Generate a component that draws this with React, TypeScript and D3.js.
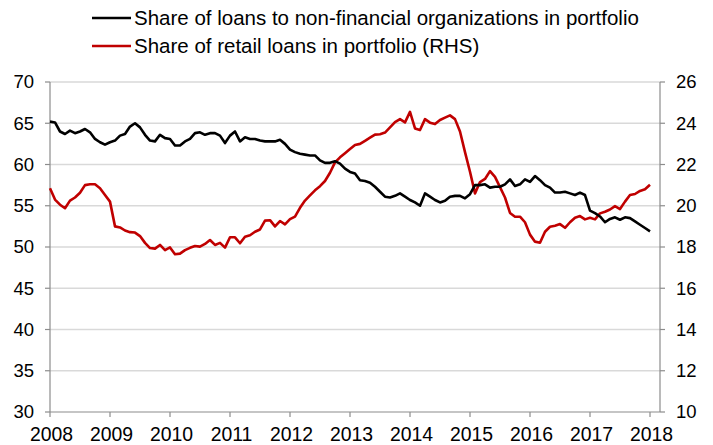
import React from "react";
import * as d3 from "d3";

const startYear = 2008;
const yearTicks = [2008, 2009, 2010, 2011, 2012, 2013, 2014, 2015, 2016, 2017, 2018];
const leftTicks = [30, 35, 40, 45, 50, 55, 60, 65, 70];
const rightTicks = [10, 12, 14, 16, 18, 20, 22, 24, 26];

const seriesNames = [
  "Share of loans to non-financial organizations in portfolio",
  "Share of retail loans in portfolio (RHS)",
];

// monthly, Jan 2008 .. Jan 2018
const corporateShare = [
  65.2, 65.1, 64.0, 63.7, 64.1, 63.8, 64.0, 64.3, 63.9, 63.1, 62.7, 62.4,
  62.7, 62.9, 63.5, 63.7, 64.6, 65.0, 64.5, 63.6, 62.9, 62.8, 63.6, 63.2,
  63.1, 62.3, 62.3, 62.8, 63.1, 63.8, 63.9, 63.6, 63.8, 63.8, 63.5, 62.6,
  63.5, 64.0, 62.8, 63.3, 63.1, 63.1, 62.9, 62.8, 62.8, 62.8, 63.0, 62.5,
  61.8, 61.5, 61.3, 61.2, 61.1, 61.1, 60.5, 60.2, 60.2, 60.4, 60.1, 59.5,
  59.1, 58.9, 58.1, 58.0, 57.8, 57.3, 56.7, 56.1, 56.0, 56.2, 56.5, 56.1,
  55.7, 55.4, 55.0, 56.5, 56.1, 55.7, 55.4, 55.6, 56.1, 56.2, 56.2, 55.9,
  56.4, 57.5, 57.5, 57.6, 57.2, 57.3, 57.3, 57.6, 58.2, 57.4, 57.6, 58.2,
  57.9, 58.6, 58.1, 57.5, 57.2, 56.6, 56.6, 56.7, 56.5, 56.3, 56.6, 56.3,
  54.4, 54.1, 53.7, 53.0, 53.4, 53.6, 53.3, 53.6, 53.5, 53.1, 52.7, 52.3,
  51.9,
];

const retailShare = [
  20.85, 20.3, 20.05, 19.88, 20.25, 20.4, 20.63, 21.0, 21.04, 21.04, 20.85, 20.52,
  20.2, 19.0, 18.95, 18.8, 18.72, 18.7, 18.53, 18.2, 17.95, 17.92, 18.1, 17.85,
  17.98, 17.65, 17.68, 17.85, 17.96, 18.05, 18.02, 18.15, 18.34, 18.1, 18.2, 17.97,
  18.47, 18.47, 18.18, 18.5, 18.57, 18.74, 18.85, 19.28, 19.3, 19.0, 19.26, 19.1,
  19.35, 19.47, 19.9, 20.25, 20.5, 20.75, 20.95, 21.2, 21.6, 22.1, 22.35, 22.55,
  22.75, 22.95, 23.0, 23.15, 23.3, 23.45, 23.47, 23.55, 23.8, 24.05, 24.2, 24.04,
  24.55, 23.75, 23.67, 24.2, 24.03, 23.96, 24.16, 24.27, 24.38, 24.2, 23.6, 22.6,
  21.65, 20.6, 21.15, 21.3, 21.68, 21.4, 20.9, 20.4, 19.65, 19.47, 19.47, 19.2,
  18.6, 18.26, 18.21, 18.74, 18.98, 19.03, 19.11, 18.93, 19.2, 19.42, 19.5, 19.34,
  19.42, 19.34, 19.63, 19.71, 19.82, 19.98, 19.84, 20.2, 20.52, 20.57, 20.72, 20.8,
  21.02,
];

const W = 713;
const H = 445;
const FONT = "'Liberation Sans', Arial, sans-serif";

export default function App() {
  const left = 50;
  const right = 660;
  const top = 82;
  const bottom = 412;
  const nMonths = corporateShare.length + 1;

  const x = d3.scaleLinear().domain([0, nMonths]).range([left, right]);
  const yL = d3.scaleLinear().domain([30, 70]).range([bottom, top]);
  const yR = d3.scaleLinear().domain([10, 26]).range([bottom, top]);

  const lineL = d3
    .line<number>()
    .x((_, i) => x(i))
    .y((d) => yL(d));
  const lineR = d3
    .line<number>()
    .x((_, i) => x(i))
    .y((d) => yR(d));

  const axisColor = "#8c8c8c";
  const gridColor = "#d9d9d9";
  const fsY = 18.5;
  const fsX = 19.4;
  const fsLeg = 20.5;

  return (
    <svg width={W} height={H} style={{ position: "absolute", left: 0, top: 0, background: "#fff" }}>
      <rect width={W} height={H} fill="#fff" />
      {leftTicks.slice(1).map((t) => (
        <line key={"g" + t} x1={left} x2={right} y1={yL(t)} y2={yL(t)} stroke={gridColor} strokeWidth={1.5} />
      ))}
      <line x1={left} x2={left} y1={top} y2={bottom} stroke={axisColor} strokeWidth={1.2} />
      <line x1={right} x2={right} y1={top} y2={bottom} stroke={axisColor} strokeWidth={1.2} />
      <line x1={left} x2={right} y1={bottom} y2={bottom} stroke={axisColor} strokeWidth={1.2} />
      {leftTicks.map((t) => (
        <g key={"l" + t}>
          <line x1={left - 5} x2={left} y1={yL(t)} y2={yL(t)} stroke={axisColor} strokeWidth={1.2} />
          <text x={left - 16} y={yL(t)} dy="0.35em" textAnchor="end" fontFamily={FONT} fontSize={fsY} fill="#000">
            {t}
          </text>
        </g>
      ))}
      {rightTicks.map((t) => (
        <g key={"r" + t}>
          <line x1={right} x2={right + 5} y1={yR(t)} y2={yR(t)} stroke={axisColor} strokeWidth={1.2} />
          <text x={right + 16} y={yR(t)} dy="0.35em" textAnchor="start" fontFamily={FONT} fontSize={fsY} fill="#000">
            {t}
          </text>
        </g>
      ))}
      {yearTicks.map((yr) => {
        const xi = x((yr - startYear) * 12);
        return (
          <g key={"x" + yr}>
            <line x1={xi} x2={xi} y1={bottom} y2={bottom + 5} stroke={axisColor} strokeWidth={1.2} />
            <text x={xi + 1.5} y={bottom + 29} textAnchor="middle" fontFamily={FONT} fontSize={fsX} fill="#000">
              {yr}
            </text>
          </g>
        );
      })}
      <path d={lineR(retailShare) || ""} fill="none" stroke="#c00000" strokeWidth={2.6} strokeLinejoin="round" />
      <path d={lineL(corporateShare) || ""} fill="none" stroke="#000" strokeWidth={2.6} strokeLinejoin="round" />
      {seriesNames.map((name, i) => (
        <g key={name}>
          <line x1={92} x2={131} y1={18 + i * 28} y2={18 + i * 28} stroke={i === 0 ? "#000" : "#c00000"} strokeWidth={2.6} />
          <text x={134} y={18 + i * 28} dy="0.35em" fontFamily={FONT} fontSize={fsLeg} fill="#000">
            {name}
          </text>
        </g>
      ))}
    </svg>
  );
}
